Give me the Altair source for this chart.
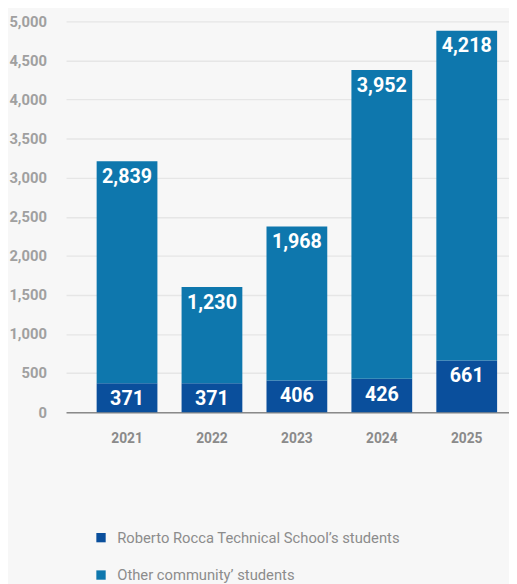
import altair as alt
import pandas as pd

years = ["2021", "2022", "2023", "2024", "2025"]
school = [371, 371, 406, 426, 661]
other = [2839, 1230, 1968, 3952, 4218]
series = ["Roberto Rocca Technical School’s students", "Other community’ students"]
colors = ["#0a4f9c", "#0e77ad"]
y_ticks = [0, 500, 1000, 1500, 2000, 2500, 3000, 3500, 4000, 4500, 5000]

rows = []
for i, y in enumerate(years):
    rows.append({"year": y, "series": series[0], "value": school[i], "ord": 0})
    rows.append({"year": y, "series": series[1], "value": other[i], "ord": 1})
df = pd.DataFrame(rows)

FONT = "Roboto, sans-serif"

base = alt.Chart(df).transform_stack(
    stack="value", groupby=["year"], as_=["v0", "v1"],
    sort=[alt.SortField("ord", order="ascending")]
)

x = alt.X("year:N", title=None,
          scale=alt.Scale(paddingInner=0.2845, paddingOuter=0.25, align=0.72),
          axis=alt.Axis(labelAngle=0, labelFont=FONT, labelFontSize=14,
                        labelFontWeight="bold", labelColor="#8a8a8a",
                        labelPadding=20, ticks=False, domainColor="#8a8a8a",
                        domainWidth=1.5))
y = alt.Y("v1:Q", title=None,
          scale=alt.Scale(domain=[0, 5000], nice=False),
          axis=alt.Axis(values=y_ticks, tickCount=20, format=",.0f",
                        labelFont=FONT, labelFontSize=15, labelFontWeight="bold",
                        labelColor="#a0a0a0", labelPadding=20, ticks=False,
                        labelOverlap=False,
                        domain=False, gridColor="#e6e6e6", gridWidth=1.5))

bars = base.mark_bar().encode(
    x=x, y=y, y2="v0:Q",
    color=alt.Color("series:N", sort=series,
                    scale=alt.Scale(domain=series, range=colors),
                    legend=alt.Legend(title=None, orient="none", legendX=28,
                                      legendY=517, symbolType="square",
                                      symbolSize=90, symbolStrokeWidth=0,
                                      labelFont=FONT, labelFontSize=15,
                                      labelColor="#8c8c8c", rowPadding=22,
                                      labelOffset=9, labelLimit=500,
                                      direction="vertical")),
)

labels = base.mark_text(color="white", font=FONT, fontSize=20,
                        fontWeight="bold", baseline="middle", dy=16).encode(
    x=x, y=y, text=alt.Text("value:Q", format=",")
)

chart = (bars + labels).properties(
    width=450, height=397,
    autosize=alt.AutoSizeParams(type="none"),
    padding={"left": 59, "top": 9, "right": 0, "bottom": 170},
    background="#f7f7f7",
).configure_view(stroke=None)

chart.save("out.html", embed_options={"renderer": "svg", "actions": False})
